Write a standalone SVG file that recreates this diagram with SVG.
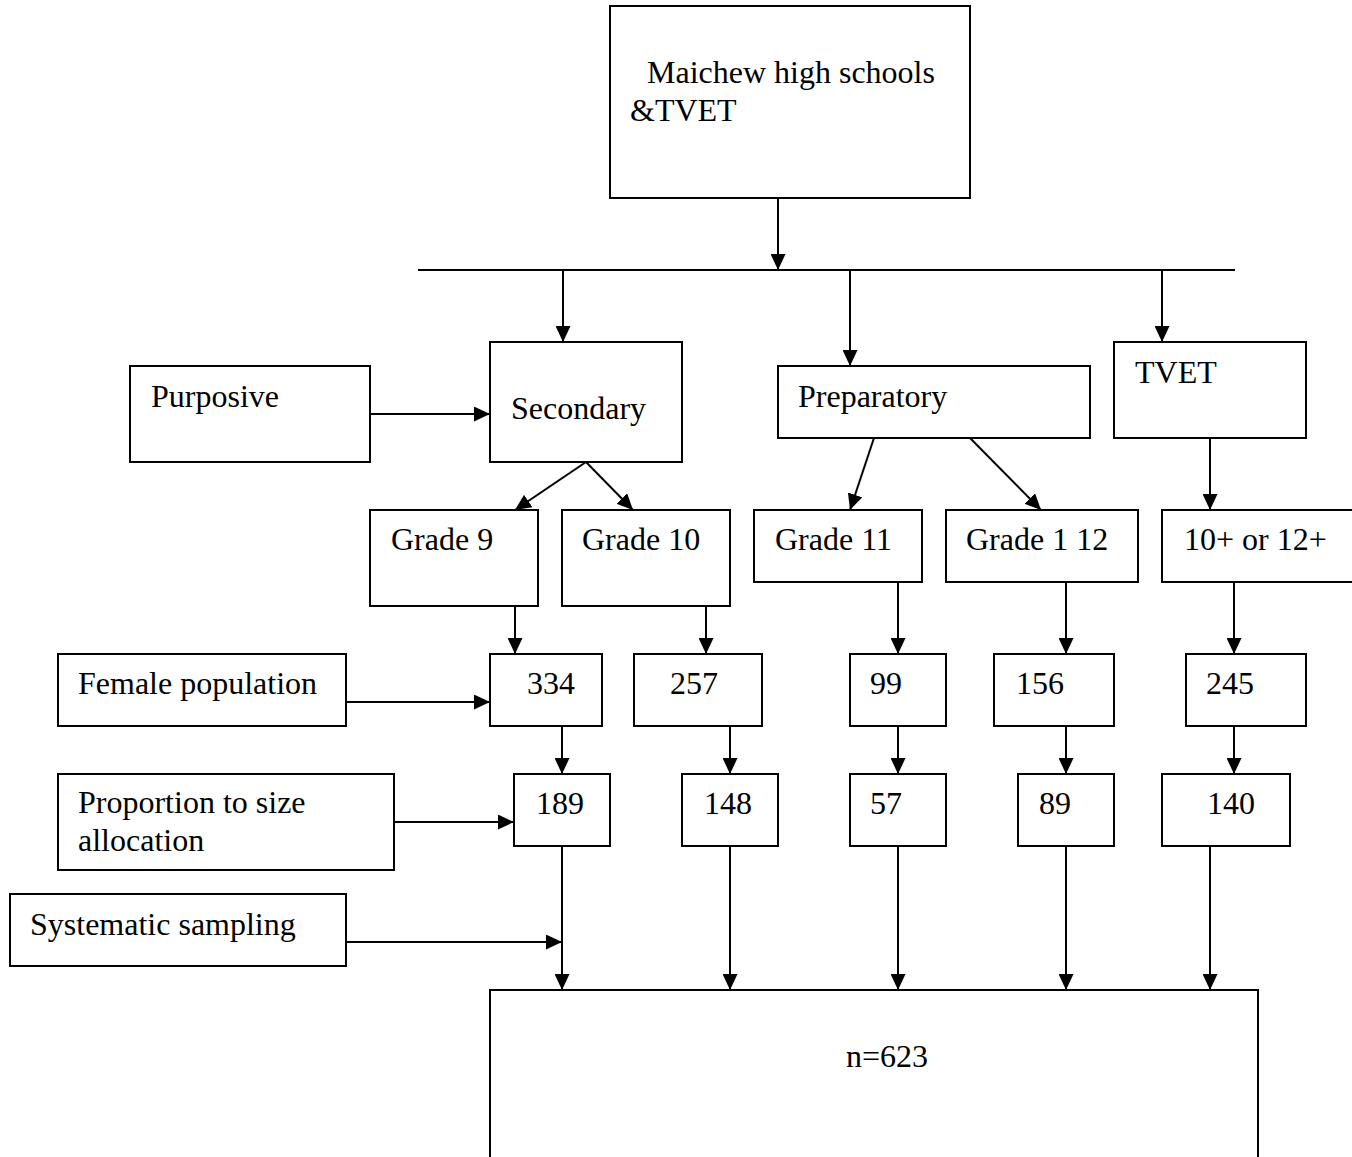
<svg xmlns="http://www.w3.org/2000/svg" width="1352" height="1157" viewBox="0 0 1352 1157">
<style>
  .box { fill: #fff; stroke: #000; stroke-width: 2; }
  .lbl { font-family: "Liberation Serif", "Times New Roman", serif; font-size: 32px; fill: #000; }
  .conn { stroke: #000; stroke-width: 2; fill: none; }
  .arr { marker-end: url(#ah); }
</style>
<defs>
  <marker id="ah" markerUnits="userSpaceOnUse" markerWidth="16" markerHeight="15" refX="16" refY="7.5" orient="auto">
    <path d="M0,0 L16,7.5 L0,15 z" fill="#000"/>
  </marker>
</defs>
<rect width="1352" height="1157" fill="#fff"/>

<g id="connectors">
  <line class="conn arr" x1="778" y1="198" x2="778" y2="270"/>
  <line class="conn" x1="418" y1="270" x2="1235" y2="270"/>
  <line class="conn arr" x1="563" y1="270" x2="563" y2="342"/>
  <line class="conn arr" x1="850" y1="270" x2="850" y2="366"/>
  <line class="conn arr" x1="1162" y1="270" x2="1162" y2="342"/>
  <line class="conn arr" x1="370" y1="414" x2="490" y2="414"/>
  <line class="conn arr" x1="586" y1="462" x2="515" y2="510"/>
  <line class="conn arr" x1="586" y1="462" x2="633" y2="510"/>
  <line class="conn arr" x1="874" y1="438" x2="850" y2="510"/>
  <line class="conn arr" x1="970" y1="438" x2="1041" y2="510"/>
  <line class="conn arr" x1="1210" y1="438" x2="1210" y2="510"/>
  <line class="conn arr" x1="515" y1="606" x2="515" y2="654"/>
  <line class="conn arr" x1="706" y1="606" x2="706" y2="654"/>
  <line class="conn arr" x1="898" y1="582" x2="898" y2="654"/>
  <line class="conn arr" x1="1066" y1="582" x2="1066" y2="654"/>
  <line class="conn arr" x1="1234" y1="582" x2="1234" y2="654"/>
  <line class="conn arr" x1="346" y1="702" x2="490" y2="702"/>
  <line class="conn arr" x1="562" y1="726" x2="562" y2="774"/>
  <line class="conn arr" x1="730" y1="726" x2="730" y2="774"/>
  <line class="conn arr" x1="898" y1="726" x2="898" y2="774"/>
  <line class="conn arr" x1="1066" y1="726" x2="1066" y2="774"/>
  <line class="conn arr" x1="1234" y1="726" x2="1234" y2="774"/>
  <line class="conn arr" x1="394" y1="822" x2="514" y2="822"/>
  <line class="conn arr" x1="346" y1="942" x2="562" y2="942"/>
  <line class="conn arr" x1="562" y1="846" x2="562" y2="990"/>
  <line class="conn arr" x1="730" y1="846" x2="730" y2="990"/>
  <line class="conn arr" x1="898" y1="846" x2="898" y2="990"/>
  <line class="conn arr" x1="1066" y1="846" x2="1066" y2="990"/>
  <line class="conn arr" x1="1210" y1="846" x2="1210" y2="990"/>
</g>

<g id="maichew"><rect class="box" x="610" y="6" width="360" height="192"/>
  <text class="lbl" x="647" y="83">Maichew high schools</text>
  <text class="lbl" x="630" y="121">&amp;TVET</text></g>
<g id="purposive"><rect class="box" x="130" y="366" width="240" height="96"/><text class="lbl" x="151" y="407">Purposive</text></g>
<g id="secondary"><rect class="box" x="490" y="342" width="192" height="120"/><text class="lbl" x="511" y="419">Secondary</text></g>
<g id="preparatory"><rect class="box" x="778" y="366" width="312" height="72"/><text class="lbl" x="798" y="407">Preparatory</text></g>
<g id="tvet"><rect class="box" x="1114" y="342" width="192" height="96"/><text class="lbl" x="1135" y="383">TVET</text></g>
<g id="grade9"><rect class="box" x="370" y="510" width="168" height="96"/><text class="lbl" x="391" y="550">Grade 9</text></g>
<g id="grade10"><rect class="box" x="562" y="510" width="168" height="96"/><text class="lbl" x="582" y="550">Grade 10</text></g>
<g id="grade11"><rect class="box" x="754" y="510" width="168" height="72"/><text class="lbl" x="775" y="550">Grade 11</text></g>
<g id="grade12"><rect class="box" x="946" y="510" width="192" height="72"/><text class="lbl" x="966" y="550">Grade 1 12</text></g>
<g id="tvetlevel"><rect class="box" x="1162" y="510" width="200" height="72"/><text class="lbl" x="1184" y="550">10+ or 12+</text></g>
<g id="female"><rect class="box" x="58" y="654" width="288" height="72"/><text class="lbl" x="78" y="694">Female population</text></g>
<g id="n334"><rect class="box" x="490" y="654" width="112" height="72"/><text class="lbl" x="527" y="694">334</text></g>
<g id="n257"><rect class="box" x="634" y="654" width="128" height="72"/><text class="lbl" x="670" y="694">257</text></g>
<g id="n99"><rect class="box" x="850" y="654" width="96" height="72"/><text class="lbl" x="870" y="694">99</text></g>
<g id="n156"><rect class="box" x="994" y="654" width="120" height="72"/><text class="lbl" x="1016" y="694">156</text></g>
<g id="n245"><rect class="box" x="1186" y="654" width="120" height="72"/><text class="lbl" x="1206" y="694">245</text></g>
<g id="proportion"><rect class="box" x="58" y="774" width="336" height="96"/>
  <text class="lbl" x="78" y="813">Proportion to size</text>
  <text class="lbl" x="78" y="851">allocation</text></g>
<g id="n189"><rect class="box" x="514" y="774" width="96" height="72"/><text class="lbl" x="536" y="814">189</text></g>
<g id="n148"><rect class="box" x="682" y="774" width="96" height="72"/><text class="lbl" x="704" y="814">148</text></g>
<g id="n57"><rect class="box" x="850" y="774" width="96" height="72"/><text class="lbl" x="870" y="814">57</text></g>
<g id="n89"><rect class="box" x="1018" y="774" width="96" height="72"/><text class="lbl" x="1039" y="814">89</text></g>
<g id="n140"><rect class="box" x="1162" y="774" width="128" height="72"/><text class="lbl" x="1207" y="814">140</text></g>
<g id="systematic"><rect class="box" x="10" y="894" width="336" height="72"/><text class="lbl" x="30" y="935">Systematic sampling</text></g>
<g id="total"><rect class="box" x="490" y="990" width="768" height="190"/><text class="lbl" x="846" y="1067">n=623</text></g>
</svg>
